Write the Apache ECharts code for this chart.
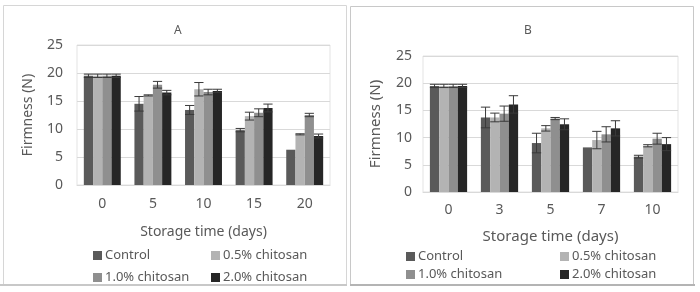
<!DOCTYPE html>
<html><head><meta charset="utf-8">
<script src="https://cdn.jsdelivr.net/npm/echarts@6/dist/echarts.min.js"></script>
<style>html,body{margin:0;padding:0;background:#fff}#c{width:700px;height:292px}</style>
</head><body><div id="c"></div>
<script>
const seriesNames = ['Control', '0.5% chitosan', '1.0% chitosan', '2.0% chitosan'];
const yTicks = [0, 5, 10, 15, 20, 25];

const categoriesA = ['0', '5', '10', '15', '20'];
const controlA = [19.5, 14.5, 13.4, 9.8, 6.3];
const chit05A = [19.5, 16.0, 17.1, 12.3, 9.05];
const chit10A = [19.5, 17.9, 16.6, 12.9, 12.5];
const chit20A = [19.5, 16.5, 16.8, 13.75, 8.75];
const errControlA = [0.3, 1.3, 0.8, 0.3, 0];
const err05A = [0.3, 0.1, 1.2, 0.7, 0.1];
const err10A = [0.3, 0.6, 0.5, 0.7, 0.3];
const err20A = [0.3, 0.4, 0.3, 0.7, 0.35];

const categoriesB = ['0', '3', '5', '7', '10'];
const controlB = [19.5, 13.7, 9.0, 8.2, 6.5];
const chit05B = [19.5, 13.7, 11.7, 9.55, 8.5];
const chit10B = [19.5, 14.4, 13.5, 10.6, 9.8];
const chit20B = [19.5, 16.1, 12.45, 11.7, 8.8];
const errControlB = [0.3, 1.9, 1.8, 0, 0.25];
const err05B = [0.3, 0.8, 0.5, 1.6, 0.2];
const err10B = [0.3, 1.4, 0.2, 1.4, 1.0];
const err20B = [0.3, 1.6, 1.0, 1.4, 1.2];

const colors = ['#5a5a5a', '#b3b3b3', '#8f8f8f', '#262626'];
const catGap = 0.27;

function errSeries(idx, vals, errs, gridIdx) {
  return {
    type: 'custom', xAxisIndex: gridIdx, yAxisIndex: gridIdx, z: 5, silent: true,
    data: vals.map((v, i) => [i, v, errs[i]]),
    renderItem: function (params, api) {
      const e = api.value(2);
      if (!e) return null;
      const ci = api.value(0), v = api.value(1);
      const center = api.coord([ci, v]);
      const band = api.size([1, 0])[0];
      const bw = band * (1 - catGap) / 4;
      const x = center[0] + (idx - 1.5) * bw;
      const top = api.coord([ci, v + e])[1];
      const bot = api.coord([ci, v - e])[1];
      const hw = bw / 2;
      const st = { stroke: '#3a3a3a', lineWidth: 1 };
      return { type: 'group', children: [
        { type: 'line', shape: { x1: x, y1: top, x2: x, y2: bot }, style: st },
        { type: 'line', shape: { x1: x - hw, y1: top, x2: x + hw, y2: top }, style: st },
        { type: 'line', shape: { x1: x - hw, y1: bot, x2: x + hw, y2: bot }, style: st }
      ] };
    }
  };
}

function barSeries(idx, vals, gridIdx) {
  return {
    name: seriesNames[idx], type: 'bar', xAxisIndex: gridIdx, yAxisIndex: gridIdx,
    data: vals, barGap: '0%', barCategoryGap: (catGap * 100) + '%',
    itemStyle: { color: colors[idx] }, silent: true
  };
}

const font = 'Noto Sans';
const axisTxt = { color: '#595959', fontFamily: font, fontSize: 14 };

function xAxis(cats, gridIdx, margin, nameGap, nameSize) {
  return {
    type: 'category', gridIndex: gridIdx, data: cats,
    axisLine: { lineStyle: { color: '#d9d9d9' } }, axisTick: { show: false },
    axisLabel: Object.assign({ margin: margin }, axisTxt),
    name: 'Storage time (days)', nameLocation: 'middle', nameGap: nameGap,
    nameTextStyle: { color: '#595959', fontFamily: font, fontSize: nameSize }
  };
}
function yAxis(gridIdx, margin, nameGap, nameSize) {
  return {
    type: 'value', gridIndex: gridIdx, min: yTicks[0], max: yTicks[yTicks.length - 1], interval: 5,
    axisLine: { show: false }, axisTick: { show: false },
    splitLine: { lineStyle: { color: '#d9d9d9' } },
    axisLabel: Object.assign({ margin: margin }, axisTxt),
    name: 'Firmness (N)', nameLocation: 'middle', nameGap: nameGap, nameRotate: 90,
    nameTextStyle: { color: '#595959', fontFamily: font, fontSize: nameSize }
  };
}
function legend(items, left, top, gap) {
  return {
    orient: 'vertical', left: left, top: top, itemGap: gap, itemWidth: 9, itemHeight: 9,
    icon: 'rect', itemStyle: { borderWidth: 0 }, selectedMode: false,
    data: items, textStyle: { color: '#595959', fontFamily: font, fontSize: 13, padding: [0, 0, 0, -2] }
  };
}

const chart = echarts.init(document.getElementById('c'), null, { renderer: 'canvas' });
chart.setOption({
  animation: false,
  backgroundColor: '#fff',
  color: colors,
  title: [
    { text: 'A', left: 169, top: 20, textStyle: { color: '#595959', fontFamily: font, fontSize: 12, fontWeight: 'normal' } },
    { text: 'B', left: 519, top: 20, textStyle: { color: '#595959', fontFamily: font, fontSize: 12, fontWeight: 'normal' } }
  ],
  graphic: [
    { type: 'rect', shape: { x: 3.5, y: 5.5, width: 343, height: 279 }, style: { fill: 'none', stroke: '#d6d6d6', lineWidth: 1 }, silent: true },
    { type: 'line', shape: { x1: 0, y1: 285, x2: 347, y2: 285 }, style: { stroke: '#c8c8c8', lineWidth: 2 }, silent: true },
    { type: 'rect', shape: { x: 350.5, y: 6.5, width: 343, height: 278 }, style: { fill: 'none', stroke: '#c8c8c8', lineWidth: 1 }, silent: true },
    { type: 'line', shape: { x1: 350, y1: 285, x2: 695, y2: 285 }, style: { stroke: '#b4b4b4', lineWidth: 2 }, silent: true }
  ],
  legend: [
    legend([seriesNames[0], seriesNames[2]], 88, 244, 9),
    legend([seriesNames[1], seriesNames[3]], 206, 244, 9),
    legend([seriesNames[0], seriesNames[2]], 401, 245, 5),
    legend([seriesNames[1], seriesNames[3]], 555, 245, 5)
  ],
  grid: [
    { left: 77, top: 45, width: 253, height: 140, show: true, borderColor: '#e3e3e3', borderWidth: 1, backgroundColor: 'transparent' },
    { left: 423, top: 56, width: 255, height: 136, show: true, borderColor: '#e3e3e3', borderWidth: 1, backgroundColor: 'transparent' }
  ],
  xAxis: [xAxis(categoriesA, 0, 12, 40, 14), xAxis(categoriesB, 1, 11, 37, 15)],
  yAxis: [yAxis(0, 14, 42, 14), yAxis(1, 11, 40, 15)],
  series: [
    barSeries(0, controlA, 0), barSeries(1, chit05A, 0), barSeries(2, chit10A, 0), barSeries(3, chit20A, 0),
    errSeries(0, controlA, errControlA, 0), errSeries(1, chit05A, err05A, 0), errSeries(2, chit10A, err10A, 0), errSeries(3, chit20A, err20A, 0),
    barSeries(0, controlB, 1), barSeries(1, chit05B, 1), barSeries(2, chit10B, 1), barSeries(3, chit20B, 1),
    errSeries(0, controlB, errControlB, 1), errSeries(1, chit05B, err05B, 1), errSeries(2, chit10B, err10B, 1), errSeries(3, chit20B, err20B, 1)
  ]
});
</script></body></html>
